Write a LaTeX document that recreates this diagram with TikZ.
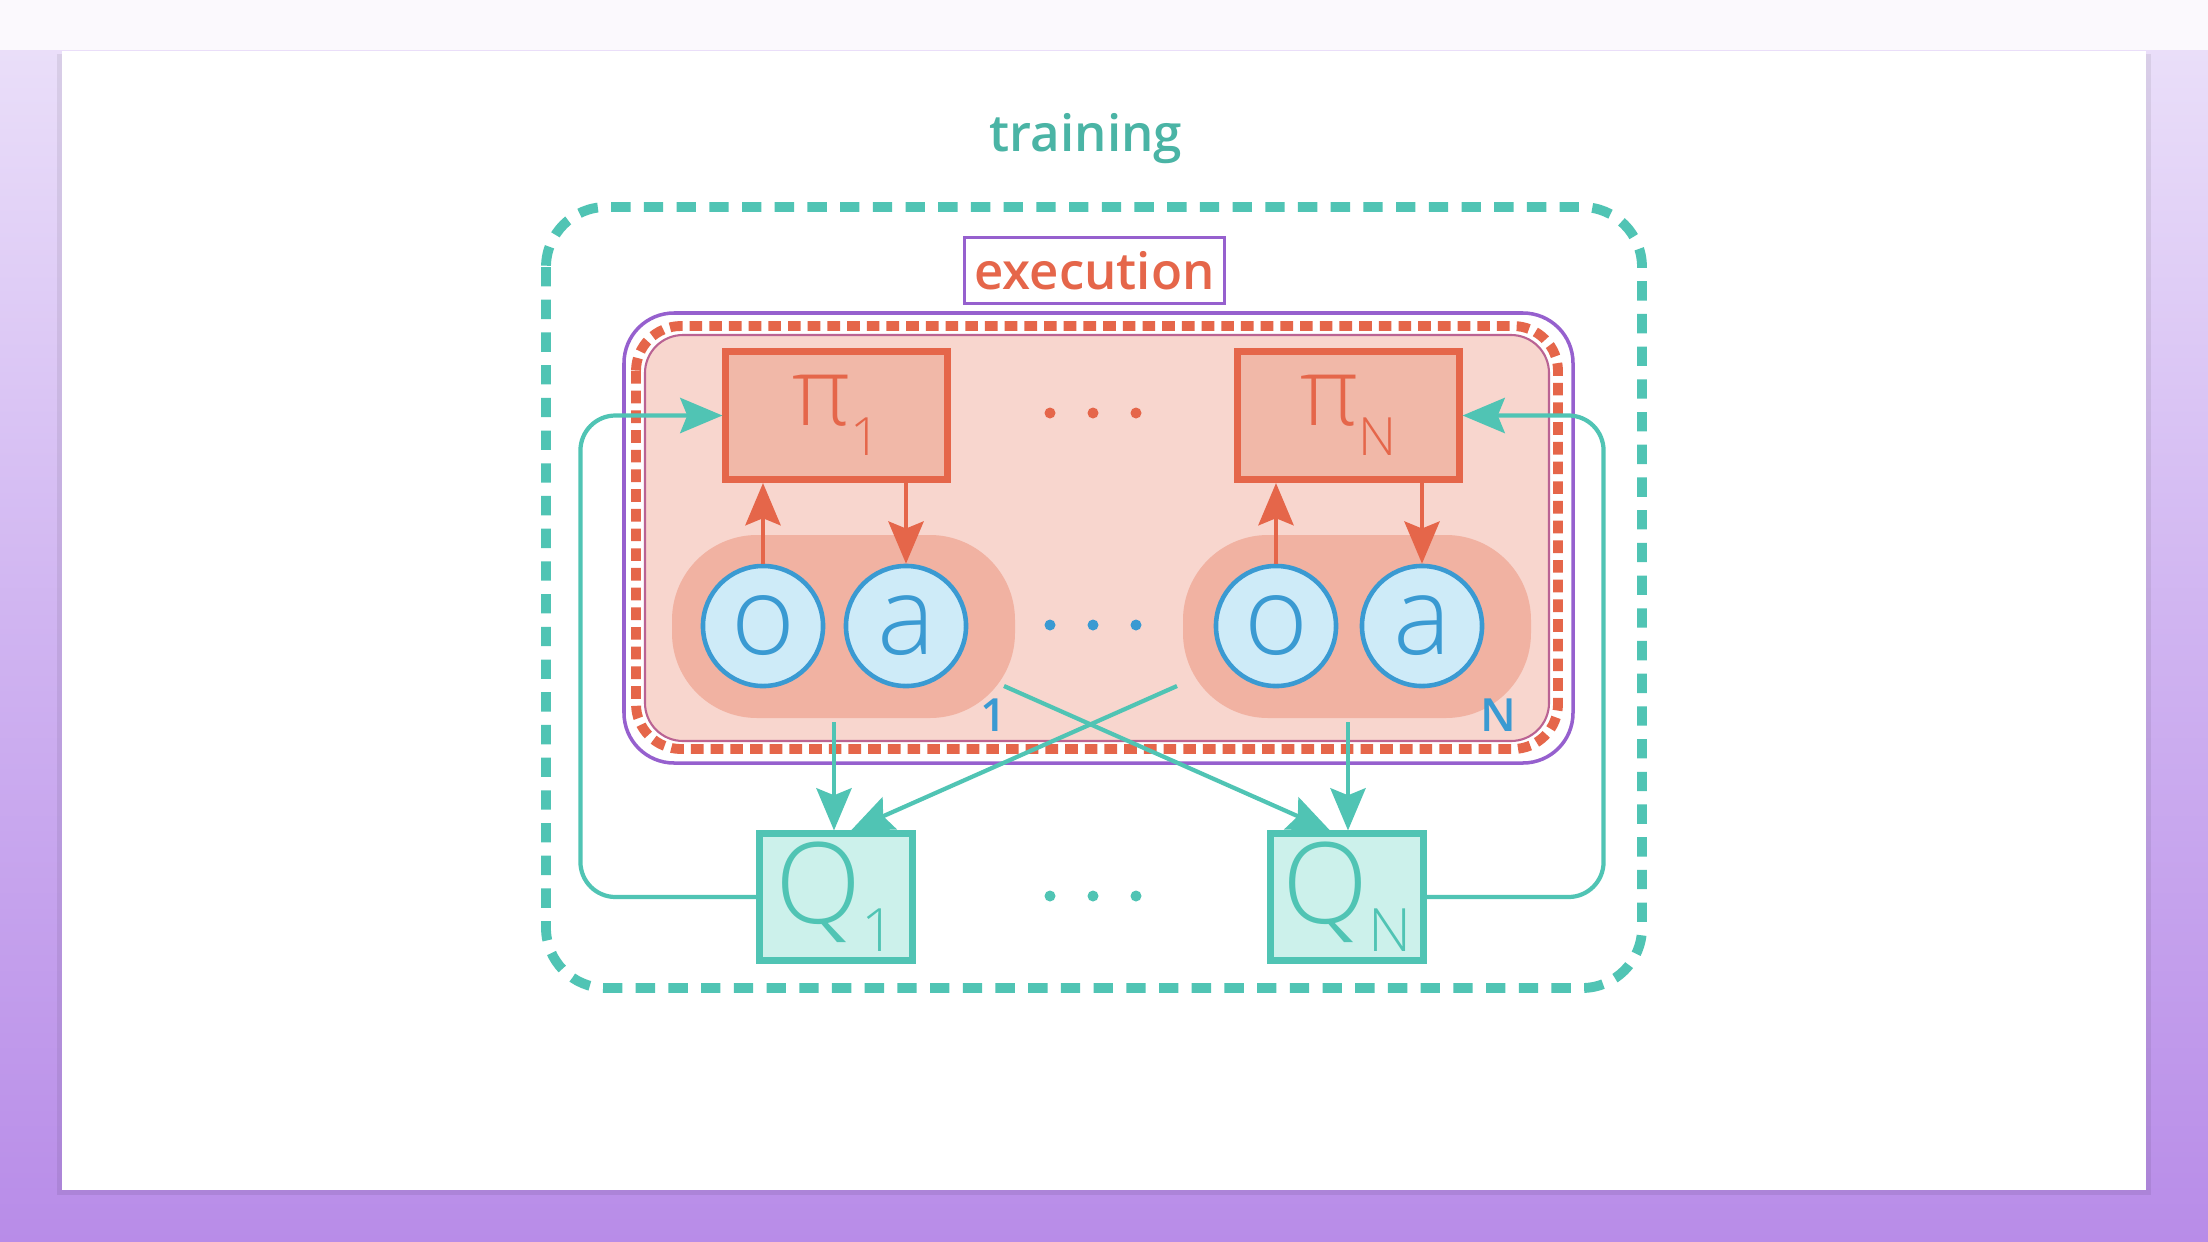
\documentclass[tikz,border=0pt]{standalone}
\usepackage{fontspec}
\setmainfont{Open Sans}
\IfFontExistsTF{Open Sans Light}{\newfontfamily\lightf{Open Sans Light}}{\newfontfamily\lightf{Open Sans}}
\IfFontExistsTF{Open Sans SemiBold}{\newfontfamily\semif{Open Sans SemiBold}}{%
  \IfFontExistsTF{Open Sans Semibold}{\newfontfamily\semif{Open Sans Semibold}}{%
    \newfontfamily\semif{Open Sans}[FakeBold=1.5]}}
\usetikzlibrary{arrows.meta}
\definecolor{tl}{RGB}{80,196,180}
\definecolor{orr}{RGB}{229,102,74}
\definecolor{pu}{RGB}{150,96,206}
\definecolor{infill}{RGB}{248,214,206}
\definecolor{blobc}{RGB}{241,178,162}
\definecolor{pifill}{RGB}{241,184,168}
\definecolor{bl}{RGB}{58,154,210}
\definecolor{blfill}{RGB}{206,235,248}
\definecolor{qfill}{RGB}{204,241,235}
\definecolor{bgA}{RGB}{236,226,250}
\definecolor{bgM}{RGB}{208,180,241}
\definecolor{bgB}{RGB}{184,140,232}
\definecolor{bgT}{RGB}{251,249,253}
\tikzset{
  pibox/.style={draw=orr, fill=pifill, line width=2pt, minimum width=2.21cm, minimum height=1.28cm, inner sep=0pt, text=orr},
  qbox/.style={draw=tl, fill=qfill, line width=2pt, minimum width=1.52cm, minimum height=1.26cm, inner sep=0pt, text=tl},
  var/.style={circle, draw=bl, fill=blfill, line width=1.3pt, minimum size=1.2cm, inner sep=0pt, text=bl, font=\lightf\fontsize{31}{31}\selectfont},
  oarrow/.style={draw=orr, line width=1.2pt, -{Stealth[length=12pt,width=10pt,inset=2pt]}},
  tarrow/.style={draw=tl, line width=1.2pt, -{Stealth[length=12pt,width=10pt,inset=2pt]}},
  lab/.style={text=bl, font=\semif\fontsize{13}{13}\selectfont, inner sep=0pt},
}
\newcommand{\pilabel}[1]{\lightf\fontsize{27}{27}\selectfont π\raisebox{-8.5pt}{\fontsize{15}{15}\selectfont #1}}
\newcommand{\qlabel}[1]{\lightf\fontsize{32}{32}\selectfont Q\raisebox{-8pt}{\fontsize{17}{17}\selectfont #1}}
\begin{document}
\begin{tikzpicture}[x=0.01cm,y=-0.01cm]
\useasboundingbox (0,0) rectangle (2208,1242);
% background
\shade[top color=bgA, bottom color=bgB, middle color=bgM] (0,0) rectangle (2208,1242);
\fill[bgT] (0,0) rectangle (2208,50);
\fill[black, opacity=0.07] (57,54) rectangle (2151,1195);
\fill[white] (62,51) rectangle (2146,1190);
% training
\node[text=tl!92!black, font=\semif\fontsize{14.5}{16}\selectfont, inner sep=0pt] (train) at (1086,139) {training};
\draw[tl, line width=2.8pt, dash pattern=on 5.5pt off 3.8pt, rounded corners=0.6cm] (546,207) rectangle (1642,988);
% execution
\node[draw=pu, line width=1pt, fill=white, text=orr, minimum width=2.6cm, minimum height=0.66cm, inner sep=0pt, font=\semif\fontsize{14.5}{16}\selectfont] (exec) at (1094.5,270.5) {execution};
\draw[pu, line width=1pt, rounded corners=0.5cm] (624,313) rectangle (1573,763);
\draw[fill=infill, draw=pu!55!orr, line width=0.6pt, rounded corners=0.38cm] (645,335) rectangle (1549,741);
\draw[orr, line width=2.8pt, dash pattern=on 3.6pt off 2pt, rounded corners=0.45cm] (636,326) rectangle (1558,749);
% agent blobs
\fill[blobc, rounded corners=0.85cm] (672,535) rectangle (1015,718);
\fill[blobc, rounded corners=0.85cm] (1183,535) rectangle (1531,718);
% policies
\node[pibox] (p1) at (836.5,415.5) {\pilabel{1}};
\node[pibox] (pN) at (1348.5,415.5) {\pilabel{N}};
% observations / actions
\node[var] (o1) at (763,626) {o};
\node[var] (a1) at (906,626) {a};
\node[var] (oN) at (1276,626) {o};
\node[var] (aN) at (1422,626) {a};
\node[lab] (l1) at (994,715) {1};
\node[lab] (lN) at (1498,715) {N};
% critics
\node[qbox] (Q1) at (836,897) {\qlabel{1}};
\node[qbox] (QN) at (1347,897) {\qlabel{N}};
% dots
\foreach \x in {1050,1093,1136} {
  \fill[orr] (\x,413) circle (0.055cm);
  \fill[bl] (\x,625) circle (0.055cm);
  \fill[tl] (\x,896) circle (0.055cm);
}
% execution arrows
\draw[oarrow] (o1.north) -- (o1.north |- p1.south);
\draw[oarrow] (a1.north |- p1.south) -- (a1.north);
\draw[oarrow] (oN.north) -- (oN.north |- pN.south);
\draw[oarrow] (aN.north |- pN.south) -- (aN.north);
% training arrows
\coordinate (s1) at (834,722);
\coordinate (s2) at (1004,686);
\coordinate (s3) at (1177,686);
\coordinate (s4) at (1348,722);
\draw[tarrow] (s1) -- (s1 |- Q1.north);
\draw[tarrow] (s2) -- ([xshift=-0.17cm]QN.north);
\draw[tarrow] (s3) -- ([xshift=0.15cm]Q1.north);
\draw[tarrow] (s4) -- (s4 |- QN.north);
\draw[tarrow, rounded corners=0.35cm] (Q1.west) -- ++(-176,0) |- (p1.west);
\draw[tarrow, rounded corners=0.35cm] (QN.east) -- ++(177,0) |- (pN.east);
\end{tikzpicture}
\end{document}
